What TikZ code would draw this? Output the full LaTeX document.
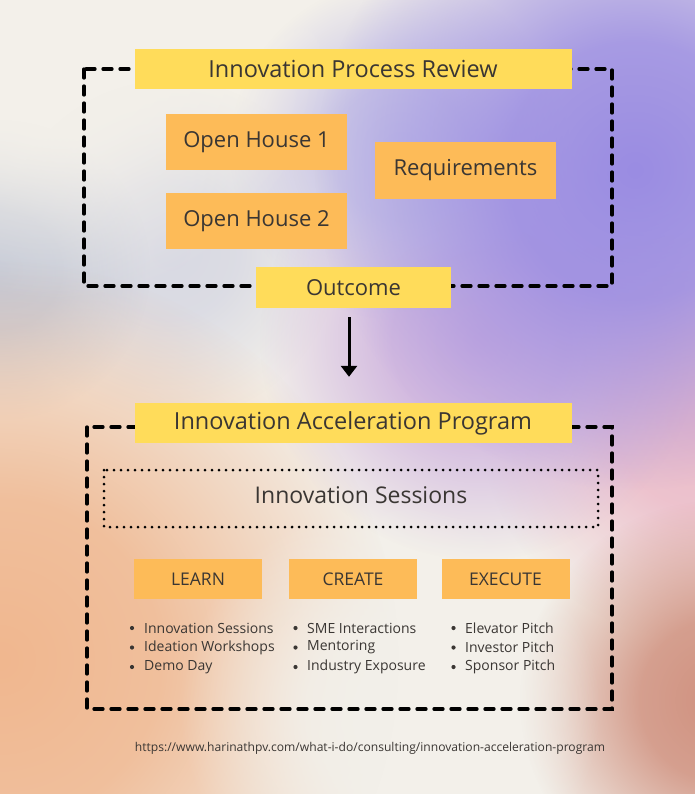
\documentclass[tikz,border=0pt]{standalone}
\usepackage{fontspec}
\setmainfont{Open Sans}
\usetikzlibrary{fadings,arrows.meta}
\pgfdeclareradialshading{plateaushade}{\pgfpointorigin}{color(0bp)=(white); color(10bp)=(white!85!black); color(25bp)=(black); color(50bp)=(black)}
\pgfdeclarefading{plateau}{\pgfuseshading{plateaushade}}
\definecolor{bgcream}{HTML}{F3F0EA}
\definecolor{ylw}{HTML}{FFDC5A}
\definecolor{org}{HTML}{FDBB58}
\definecolor{txt}{HTML}{3A3633}
\definecolor{blobpurple}{HTML}{9A8CE2}
\definecolor{bloblav}{HTML}{CDB0DE}
\definecolor{blobpink}{HTML}{ECBBC9}
\definecolor{bloborange}{HTML}{F0B78F}
\definecolor{blobbrown}{HTML}{D0917F}
\definecolor{blobgray}{HTML}{C3C8D6}
\definecolor{blobmist}{HTML}{D8D9E3}
\definecolor{blobice}{HTML}{C4C0E6}
\tikzset{
  blob/.style={path fading=plateau},
  titlebox/.style={fill=ylw, text=txt, inner sep=0pt, font=\fontsize{23.5}{28}\selectfont},
  orgbox/.style={fill=org, text=txt, inner sep=0pt, font=\fontsize{22}{26}\selectfont},
  phasebox/.style={fill=org, text=txt, inner sep=0pt, font=\fontsize{17.5}{21}\selectfont},
  frame/.style={line width=3.3pt, dash pattern=on 9pt off 8pt, line cap=round, black},
  dotframe/.style={line width=3pt, dash pattern=on 0pt off 7pt, line cap=round, black},
  item/.style={anchor=west, text=txt, inner sep=0pt, font=\fontsize{14}{17}\selectfont},
  dot/.style={circle, fill=txt, inner sep=0pt, minimum size=4.2pt}
}
\begin{document}
\begin{tikzpicture}[x=1pt,y=-1pt]
% background
\fill[bgcream] (0,0) rectangle (695,794);
\useasboundingbox (0,0) rectangle (695,794);
\begin{scope}
\clip (0,0) rectangle (695,794);
\fill[blob, blobmist] (170,250) circle (170);
\fill[blob, blobgray] (0,270) circle (150);
\fill[blob, bloborange] (0,660) circle (400);
\fill[blob, blobpink] (700,420) circle (220);
\fill[blob, bloblav] (480,340) circle (220);
\fill[blob, blobice] (400,150) circle (170);
\fill[blob, blobpurple] (635,170) circle (320);
\fill[blob, blobbrown] (720,700) circle (200);
\fill[blob, bgcream] (390,710) circle (210);
\fill[blob, bgcream] (60,30) circle (270);
\end{scope}

% top section
\draw[frame] (84,69) rectangle (612,286);
\node[titlebox, minimum width=437pt, minimum height=40pt] (ipr) at (353,69) {Innovation Process Review};
\node[orgbox, minimum width=181pt, minimum height=56pt] (oh1) at (256.5,142) {Open House 1};
\node[orgbox, minimum width=181pt, minimum height=56pt] (oh2) at (256.5,221) {Open House 2};
\node[orgbox, minimum width=181pt, minimum height=57pt] (req) at (465.5,170.5) {Requirements};
\node[titlebox, minimum width=195pt, minimum height=41pt, font=\fontsize{22}{26}\selectfont] (out) at (353.5,287.5) {Outcome};

% lower section
\draw[frame] (87,427) rectangle (612,709);
\node[titlebox, minimum width=437pt, minimum height=40pt] (iap) at (353,423) {Innovation Acceleration Program};
\draw[dotframe] (104,470) rectangle (598,527);
\node[text=txt, font=\fontsize{23}{27}\selectfont] (ses) at (361,495) {Innovation Sessions};

\draw[line width=3pt, -{Triangle[length=11pt,width=16pt]}] ([xshift=-4.5pt,yshift=-9pt]out.south) -- ([xshift=-4pt,yshift=26pt]iap.north);

\node[phasebox, minimum width=128pt, minimum height=40pt] (learn) at (198,579) {LEARN};
\node[phasebox, minimum width=128pt, minimum height=40pt] (create) at (353,579) {CREATE};
\node[phasebox, minimum width=128pt, minimum height=40pt] (exec) at (505.5,579) {EXECUTE};

% bullets
\foreach \t [count=\i] in {Innovation Sessions,Ideation Workshops,Demo Day}{
  \node[dot] (l\i) at (132,608.5+19.5*\i) {};
  \node[item] (lt\i) at (144,608.5+19.5*\i) {\t};
}
\foreach \t [count=\i] in {SME Interactions,Mentoring,Industry Exposure}{
  \node[dot] (c\i) at (295.5,608.5+19.5*\i) {};
  \node[item] (ct\i) at (307,608.5+19.5*\i) {\t};
}
\foreach \t [count=\i] in {Elevator Pitch,Investor Pitch,Sponsor Pitch}{
  \node[dot] (e\i) at (453.5,608.5+19.5*\i) {};
  \node[item] (et\i) at (465,608.5+19.5*\i) {\t};
}

\node[text=txt, font=\fontsize{12.1}{14}\selectfont] (url) at (370,748) {https://www.harinathpv.com/what-i-do/consulting/innovation-acceleration-program};
\end{tikzpicture}
\end{document}
